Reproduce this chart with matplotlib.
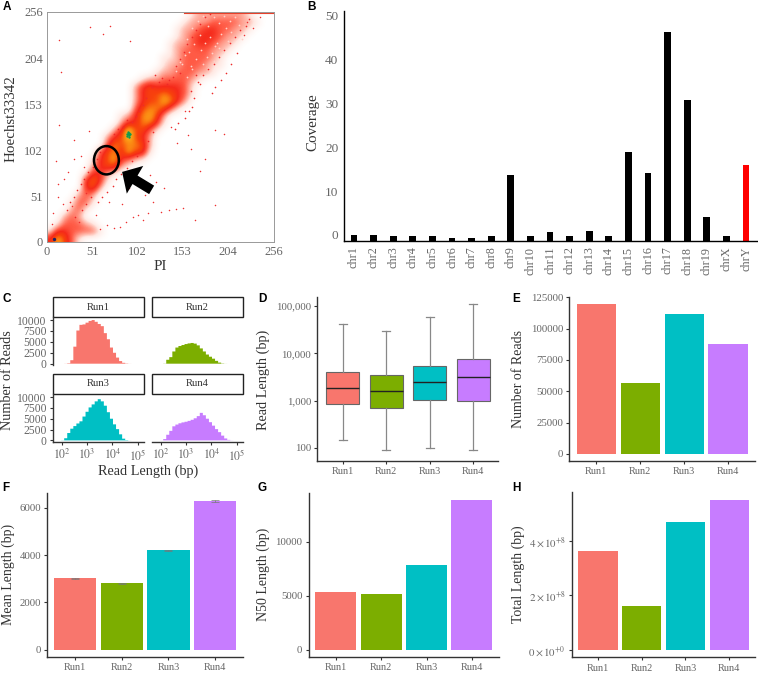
import numpy as np
import matplotlib
matplotlib.use("Agg")
import matplotlib.pyplot as plt
from matplotlib.colors import LinearSegmentedColormap
from matplotlib.patches import Ellipse, Rectangle

plt.rcParams["font.family"] = ["Liberation Serif", "DejaVu Serif"]
plt.rcParams["mathtext.fontset"] = "stix"

W, H = 758, 675
TICK = "#666666"
TITLE = "#333333"
AXIS = "#333333"

runs = ["Run1", "Run2", "Run3", "Run4"]
run_colors = ["#F8766D", "#7CAE00", "#00BFC4", "#C77CFF"]

# panel A, density levels in 8 unit cells, bottom row first
row_start = [0, 0, 1, 2, 3, 3, 4, 5, 5, 5, 6, 6, 7, 8, 8, 9,
             10, 10, 12, 12, 12, 12, 13, 15, 16, 16, 17, 17, 18, 18, 19, 20]
row_levels = ["47531", "14433331", "133321", "232", "231", "1331", "232", "452",
              "4641", "14421", "245521", "14574321", "35647551", "3656652", "2458542", "2485531",
              "2446641", "1246752", "3566531", "24557642", "245565431", "245444431", "122333321", "122333221",
              "122333211", "112333321", "123333221", "1223443221", "1234443221", "12234433221", "12223333221", "122222221"]
stray_x = [14, 48, 71, 94, 63, 16, 14, 31, 47, 10, 7, 12, 172, 190, 167, 159, 189, 123, 138, 153,
           114, 97, 89, 82, 75, 68, 60, 103, 108, 128, 145, 120, 132, 30, 24, 19, 38, 42, 12, 18,
           147, 162, 178, 200, 226, 232, 240, 222, 156, 140, 92, 85, 110, 116, 70, 55, 36, 28, 44, 6]
stray_y = [225, 239, 240, 224, 231, 189, 130, 114, 123, 90, 32, 64, 79, 41, 24, 119, 125, 67, 36, 38,
           32, 28, 22, 17, 16, 19, 14, 30, 25, 33, 37, 45, 60, 92, 78, 70, 96, 84, 50, 42,
           110, 104, 92, 120, 245, 238, 250, 230, 146, 128, 60, 42, 52, 75, 44, 30, 22, 40, 55, 20]
# dots along the edges of the cloud
edge_x = [150, 154, 158, 163, 168, 172, 178, 184, 146, 150, 142, 138, 135, 130, 126, 122, 118, 112, 108, 104,
          100, 96, 90, 86, 80, 76, 72, 66, 60, 56, 52, 46, 42, 38, 34, 30, 26, 22, 170, 176,
          182, 188, 194, 200, 206, 212, 218, 224, 228, 214, 208, 202, 196, 190, 186, 164, 160, 156, 148, 144,
          162, 166, 172, 168, 120, 114, 108, 102, 96, 90, 84, 78, 74, 68, 62, 58, 50, 44, 40, 32]
edge_y = [204, 212, 220, 228, 236, 243, 250, 254, 196, 188, 184, 180, 176, 182, 178, 186, 172, 160, 152, 146,
          140, 134, 136, 128, 126, 120, 112, 106, 100, 92, 84, 78, 70, 64, 58, 50, 44, 36, 178, 186,
          192, 198, 206, 214, 222, 228, 236, 240, 248, 210, 198, 188, 180, 172, 166, 150, 146, 138, 132, 126,
          168, 160, 176, 186, 122, 112, 104, 96, 90, 82, 76, 70, 62, 56, 50, 44, 50, 42, 36, 28]
# pale gaps between dots inside the upper band
gap_x = [158, 164, 170, 176, 182, 188, 194, 200, 206, 212, 160, 166, 172, 178, 184, 190, 196, 202, 208, 150,
         156, 162, 168, 174, 180, 186, 192, 198, 204, 146, 152, 158, 164, 170, 176, 182, 188, 194, 216, 220]
gap_y = [226, 238, 246, 252, 240, 250, 244, 252, 246, 250, 212, 220, 230, 222, 228, 218, 232, 238, 234, 200,
         208, 196, 204, 214, 206, 210, 222, 212, 224, 190, 198, 184, 192, 182, 198, 194, 202, 216, 242, 226]
core_x = [90, 91, 92, 93, 91, 92, 94, 90]
core_y = [118, 120, 121, 119, 122, 117, 120, 120]

# panel B
chroms = ["chr1", "chr2", "chr3", "chr4", "chr5", "chr6", "chr7", "chr8", "chr9", "chr10", "chr11",
          "chr12", "chr13", "chr14", "chr15", "chr16", "chr17", "chr18", "chr19", "chrX", "chrY"]
coverage = [0.0, 0.0, -0.3, -0.3, -0.3, -0.6, -0.6, -0.3, 13.7, -0.3, 0.7,
            -0.3, 1.0, -0.3, 19.0, 14.0, 46.3, 30.8, 4.0, -0.3, 16.0]

# panel C
hist_bins = [2.04, 2.16, 2.28, 2.40, 2.52, 2.64, 2.76, 2.88, 3.00, 3.12, 3.24, 3.36,
             3.48, 3.60, 3.72, 3.84, 3.96, 4.08, 4.20, 4.32, 4.44, 4.56, 4.68, 4.80]
hist_run1 = [0, 20, 100, 800, 3900, 7600, 8900, 9000, 9400, 9800, 10000, 9600,
             9100, 8600, 7000, 5600, 3700, 2500, 1400, 600, 200, 60, 10, 0]
hist_run2 = [0, 30, 900, 1500, 2800, 3700, 4050, 4280, 4500, 4650, 4750, 4600,
             4200, 3500, 2800, 2100, 1600, 1150, 650, 250, 60, 10, 0, 0]
hist_run3 = [30, 500, 1700, 2700, 3300, 3900, 4400, 5500, 6600, 7600, 8300, 9000,
             9500, 9000, 8000, 6500, 5000, 3700, 2600, 1400, 400, 80, 10, 0]
hist_run4 = [20, 300, 1300, 2200, 3250, 3650, 3950, 4150, 4300, 4500, 4750, 5100,
             5600, 6350, 5800, 5000, 4200, 3400, 2600, 1900, 1100, 450, 120, 20]

# panel D
box_low = [143, 88, 97, 88]
box_q1 = [830, 693, 1025, 1000]
box_med = [1810, 1570, 2470, 3090]
box_q3 = [3955, 3420, 5300, 7700]
box_high = [41100, 30100, 58900, 112000]

# panels E to H
n_reads = [119700, 56900, 111400, 87500]
mean_length = [3014, 2803, 4211, 6296]
mean_err = [20, 18, 22, 35]
n50_length = [5310, 5120, 7810, 13860]
total_length = [3.62e8, 1.60e8, 4.68e8, 5.48e8]


def px_axes(left, top, right, bottom):
    return fig.add_axes([left / W, 1 - bottom / H, (right - left) / W, (bottom - top) / H])


def letter(s, x, y):
    fig.text(x / W, 1 - y / H, s, family="Liberation Sans", weight="bold", fontsize=8.5, color="black", va="baseline")


def style(ax, size=7.8):
    ax.spines["top"].set_visible(False)
    ax.spines["right"].set_visible(False)
    ax.spines["left"].set_color(AXIS)
    ax.spines["bottom"].set_color(AXIS)
    ax.spines["left"].set_linewidth(1.0)
    ax.spines["bottom"].set_linewidth(1.0)
    ax.tick_params(colors=AXIS, labelcolor=TICK, labelsize=size, length=2.5, width=0.8, pad=2)


def run_bars(ax, values, xlim, ylim, yticks, ylabels, title, title_x):
    ax.bar(range(4), values, width=0.9, color=run_colors)
    ax.set_xlim(xlim)
    ax.set_ylim(ylim)
    ax.set_xticks(range(4))
    ax.set_xticklabels(runs, fontsize=7.5)
    ax.set_yticks(yticks)
    ax.set_yticklabels(ylabels)
    style(ax)
    ax.tick_params(axis="x", labelsize=7.5)
    pos = ax.get_position()
    fig.text(title_x / W, (pos.y0 + pos.y1) / 2, title, rotation=90, fontsize=10, color=TITLE,
             ha="center", va="center")


fig = plt.figure(figsize=(W / 100, H / 100), dpi=100)

# A
ax = px_axes(47, 12, 274, 242)
grid = np.zeros((32, 32))
for r, (start, levels) in enumerate(zip(row_start, row_levels)):
    for i, c in enumerate(levels):
        grid[r, start + i] = int(c)
cmap = LinearSegmentedColormap.from_list("flow", ["#ffffff", "#ffe8e2", "#ffa595", "#ff5a45", "#f52a1a", "#f8430c",
                                                  "#fb8412", "#fbb41c", "#e8d43a", "#2fbf55"])
ax.imshow(grid, origin="lower", extent=[0, 256, 0, 256], cmap=cmap, vmin=0, vmax=9,
          interpolation="bicubic", aspect="auto")
ax.scatter(gap_x, gap_y, s=1.6, color="#ffd0c8", linewidths=0)
ax.scatter(edge_x, edge_y, s=1.4, color="#ee2a2a", linewidths=0)
ax.scatter(stray_x, stray_y, s=1.2, color="#ee3030", linewidths=0)
ax.scatter(core_x, core_y, s=3, color="#0f9a50", linewidths=0)
ax.plot([155, 256], [255.2, 255.2], color="#e8402a", lw=0.8, zorder=5)
ax.scatter([8], [3], s=6, color="#222266", linewidths=0)
ax.add_patch(Ellipse((67, 91), 28, 31.5, fill=False, edgecolor="black", lw=1.8))
ax.arrow(118, 58, -33.3, 20, width=11, head_width=36, head_length=17, length_includes_head=True,
         color="black", linewidth=0)
ax.set_xlim(0, 256)
ax.set_ylim(0, 256)
ax.set_xticks([0, 51, 102, 153, 204, 256])
ax.set_yticks([0, 51, 102, 153, 204, 256])
ax.tick_params(length=0, labelsize=9, labelcolor=TICK, pad=3)
for s in ax.spines.values():
    s.set_color("#999999")
    s.set_linewidth(0.7)
ax.set_xlabel("PI", fontsize=10.8, color=TITLE, labelpad=1)
fig.text(11 / W, 1 - 119 / H, "Hoechst33342", rotation=90, fontsize=10.8, color=TITLE, ha="center", va="center")

# B
ax = px_axes(344, 11, 757, 241)
ylow = -1.37
bar_colors = ["black"] * 20 + ["#ff0000"]
ax.bar(range(21), [v - ylow for v in coverage], bottom=ylow, width=0.34, color=bar_colors)
ax.set_xlim(-0.51, 20.56)
ax.set_ylim(ylow, 51)
ax.set_xticks(range(21))
ax.set_xticklabels(chroms, rotation=90, fontsize=8.7)
ax.set_yticks([0, 10, 20, 30, 40, 50])
style(ax, 9.5)
ax.tick_params(length=0, pad=4)
ax.tick_params(axis="x", labelsize=8.7)
ax.spines["left"].set_color("black")
ax.spines["bottom"].set_color("black")
fig.text(312.5 / W, 1 - 122 / H, "Coverage", rotation=90, fontsize=10.8, color=TITLE, ha="center", va="center")

# C
hist_data = [hist_run1, hist_run2, hist_run3, hist_run4]
edges = [10 ** (b - 0.06) for b in hist_bins] + [10 ** (hist_bins[-1] + 0.06)]
panels = [(53, 144, 317, 365), (152, 243, 317, 365), (53, 144, 394, 441.7), (152, 243, 394, 441.7)]
for i, (l, r, t, b) in enumerate(panels):
    ax = px_axes(l, t, r, b)
    st = ax.stairs(hist_data[i], edges, fill=True, color=run_colors[i], linewidth=0)
    st.set_snap(False)
    ax.set_xscale("log")
    ax.set_xlim(10 ** 1.66, 10 ** 5.24)
    ax.set_ylim(-300, 10700)
    ax.minorticks_off()
    style(ax, 8.4)
    ax.set_xticks([1e2, 1e3, 1e4, 1e5])
    ax.set_xticklabels([r"$10^{2}$", r"$10^{3}$", r"$10^{4}$", r"$10^{5}$"])
    ax.set_yticks([0, 2500, 5000, 7500, 10000])
    ax.spines["left"].set_visible(i % 2 == 0)
    ax.spines["bottom"].set_visible(i >= 2)
    if i % 2 == 1:
        ax.tick_params(axis="y", length=0, labelleft=False)
    if i < 2:
        ax.tick_params(axis="x", length=0, labelbottom=False)
    ax.add_patch(Rectangle((0, 1), 1, 20 / (b - t), transform=ax.transAxes, clip_on=False,
                           facecolor="white", edgecolor="#222222", lw=1.0))
    ax.text(0.5, 1 + 10 / (b - t), runs[i], transform=ax.transAxes, fontsize=7.6, color=TITLE,
            ha="center", va="center")
fig.text(148 / W, 1 - 471 / H, "Read Length (bp)", fontsize=10.3, color=TITLE, ha="center", va="center")
fig.text(8 / W, 1 - 380 / H, "Number of Reads", rotation=90, fontsize=10.2, color=TITLE, ha="center", va="center")

# D
ax = px_axes(317.3, 296.7, 498, 460.7)
stats = [dict(whislo=box_low[i], q1=box_q1[i], med=box_med[i], q3=box_q3[i], whishi=box_high[i], fliers=[])
         for i in range(4)]
parts = ax.bxp(stats, positions=range(4), widths=0.75, patch_artist=True, showfliers=False,
               boxprops=dict(edgecolor="#666666", linewidth=0.8),
               medianprops=dict(color="#222222", linewidth=1.0),
               whiskerprops=dict(color="#888888", linewidth=0.9),
               capprops=dict(color="#888888", linewidth=0.9), capwidths=0.19)
for patch, c in zip(parts["boxes"], run_colors):
    patch.set_facecolor(c)
ax.set_yscale("log")
ax.set_xlim(-0.584, 3.57)
ax.set_ylim(10 ** 1.725, 10 ** 5.2)
ax.minorticks_off()
ax.set_xticks(range(4))
ax.set_xticklabels(runs)
ax.set_yticks([100, 1000, 10000, 100000])
ax.set_yticklabels(["100", "1,000", "10,000", "100,000"])
style(ax)
ax.tick_params(axis="x", labelsize=7.5)
fig.text(263.5 / W, 1 - 380 / H, "Read Length (bp)", rotation=90, fontsize=10.3, color=TITLE, ha="center", va="center")

# E
ax = px_axes(569.3, 296.7, 755, 461)
run_bars(ax, n_reads, (-0.614, 3.607), (-5585, 125500), [0, 25000, 50000, 75000, 100000, 125000],
         ["0", "25000", "50000", "75000", "100000", "125000"], "Number of Reads", 518)

# F
ax = px_axes(47.3, 492.7, 243.3, 657)
run_bars(ax, mean_length, (-0.592, 3.6), (-308, 6633), [0, 2000, 4000, 6000],
         ["0", "2000", "4000", "6000"], "Mean Length (bp)", 8)
ax.errorbar(range(4), mean_length, yerr=mean_err, fmt="none", ecolor="#777777", elinewidth=0.5, capsize=3.2, capthick=0.5,
            zorder=1)

# G
ax = px_axes(308.7, 492.7, 498.7, 657)
run_bars(ax, n50_length, (-0.595, 3.59), (-679, 14534), [0, 5000, 10000],
         ["0", "5000", "10000"], "N50 Length (bp)", 263.5)

# H
ax = px_axes(572, 492, 755, 657.3)
run_bars(ax, total_length, (-0.595, 3.59), (-2.67e7, 5.78e8), [0, 2e8, 4e8],
         [r"$0\times10^{+0}$", r"$2\times10^{+8}$", r"$4\times10^{+8}$"], "Total Length (bp)", 518)

letter("A", 2.5, 10)
letter("B", 307, 10)
letter("C", 2.5, 302)
letter("D", 258, 302)
letter("E", 512, 302)
letter("F", 2.5, 491)
letter("G", 257, 491)
letter("H", 512, 491)

fig.savefig("out.png", dpi=100)
